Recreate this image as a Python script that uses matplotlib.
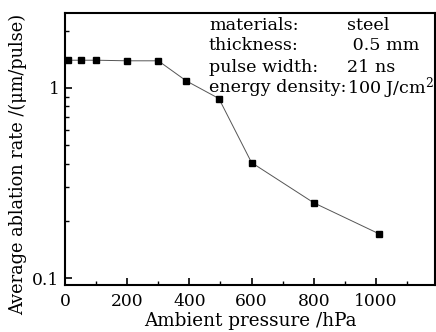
import matplotlib
matplotlib.use("Agg")
import matplotlib.pyplot as plt
from matplotlib.ticker import FixedLocator, FixedFormatter, NullFormatter, MultipleLocator

pressure = [10, 50, 100, 200, 300, 390, 495, 600, 800, 1010]
rate = [1.40, 1.40, 1.40, 1.39, 1.39, 1.09, 0.88, 0.405, 0.249, 0.171]

info_labels = ["materials:", "thickness:", "pulse width:", "energy density:"]
info_values = ["steel", " 0.5 mm", "21 ns", "100 J/cm$^{2}$"]

plt.rcParams["font.family"] = ["DejaVu Serif"]
plt.rcParams["mathtext.fontset"] = "dejavuserif"

fig = plt.figure(figsize=(4.36, 3.32), dpi=100)
ax = fig.add_axes([65 / 436, 1 - 285 / 332, (435 - 65) / 436, (285 - 13) / 332])

ax.plot(pressure, rate, color="#555555", lw=0.7, marker="s", ms=3.8,
        mfc="black", mec="black")

ax.set_yscale("log")
ax.set_xlim(0, 1190)
ax.set_ylim(0.092, 2.48)

ax.xaxis.set_major_locator(MultipleLocator(200))
ax.xaxis.set_minor_locator(MultipleLocator(100))
ax.yaxis.set_major_locator(FixedLocator([0.1, 1]))
ax.yaxis.set_major_formatter(FixedFormatter(["0.1", "1"]))
ax.yaxis.set_minor_locator(FixedLocator([0.2, 0.3, 0.4, 0.5, 0.6, 0.7, 0.8, 0.9, 2]))
ax.yaxis.set_minor_formatter(NullFormatter())

ax.tick_params(which="both", direction="in", top=False, right=False, labelsize=12.3)
ax.tick_params(which="major", length=5, width=1.2)
ax.tick_params(which="minor", length=3, width=1.0)
ax.tick_params(axis="x", pad=6)
ax.tick_params(axis="y", pad=4)
for s in ax.spines.values():
    s.set_linewidth(1.5)

ax.set_xlabel("Ambient pressure /hPa", fontsize=13.2, labelpad=1)
ax.set_ylabel("Average ablation rate /(\u03bcm/pulse)", fontsize=12.8)
ax.yaxis.set_label_coords(-0.127, 0.445)
ax.yaxis.label.set_va("center")

for i, (lab, val) in enumerate(zip(info_labels, info_values)):
    y = 1 - (25 + 21 * i) / 332
    fig.text(209 / 436, y, lab, fontsize=12.6, va="center", ha="left")
    fig.text(347 / 436, y, val, fontsize=12.6, va="center", ha="left")

fig.savefig("out.png", dpi=100)
